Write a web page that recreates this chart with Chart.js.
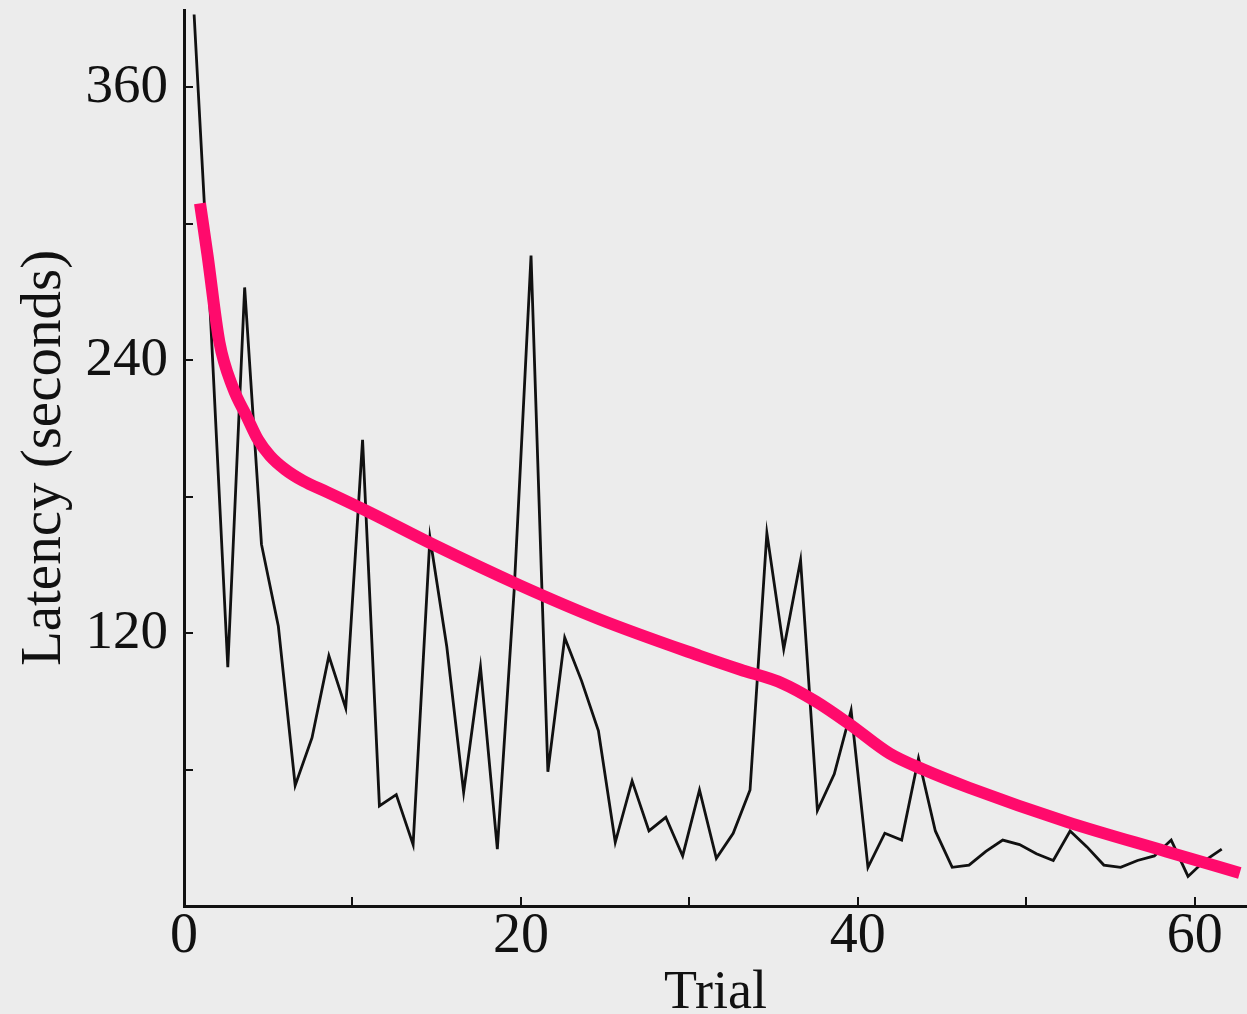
<!DOCTYPE html>
<html>
<head>
<meta charset="utf-8">
<script src="https://cdn.jsdelivr.net/npm/chart.js@4.4.0/dist/chart.umd.min.js"></script>
<style>
  html, body { margin: 0; padding: 0; background: #ececec; }
  canvas { display: block; }
</style>
</head>
<body>
<canvas id="myChart" width="1247" height="1014"></canvas>
<script>
// trial number and latency (s) of each trial
const trials = [1, 2, 3, 4, 5, 6, 7, 8, 9, 10, 11, 12, 13, 14, 15, 16, 17, 18, 19, 20,
    21, 22, 23, 24, 25, 26, 27, 28, 29, 30, 31, 32, 33, 34, 35, 36, 37, 38, 39, 40,
    41, 42, 43, 44, 45, 46, 47, 48, 49, 50, 51, 52, 53, 54, 55, 56, 57, 58, 59, 60, 61, 62];
const latencies = [392, 255, 105, 272, 159, 123, 53, 74, 110, 87, 205, 44, 49, 27, 162, 114, 50, 105, 25, 139,
    286, 59, 118, 99, 77, 28, 55, 33, 39, 22, 51, 21, 32, 51, 164, 113, 152, 42, 58, 86,
    17, 32, 29, 65, 33, 17, 18, 24, 29, 27, 23, 20, 33, 26, 18, 17, 20, 22, 29, 13, 20, 25];

// smoothed trend (pink curve)
const fitTrials = [0.95, 1.4, 2.1, 2.9, 3.74, 4.4, 5.1, 6, 7.06, 8.5, 11.04, 14.78, 19.94, 24.69, 30.62, 33, 35.5, 37.5, 39.5, 41.9, 43.9, 46.6, 52.4, 58.3, 62.67];
const fitLatency = [309, 286, 248, 228, 215, 205, 198, 192, 187, 182, 173, 159, 141, 126, 110, 104, 98, 90, 80, 67, 60, 52, 37, 24, 14.5];

const xLabels = [0, 20, 40, 60];
const yLabels = [120, 240, 360];

const serif = '"Liberation Serif", "DejaVu Serif", serif';

const data = {
    datasets: [{
        label: 'Trend',
        data: fitTrials.map((t, i) => ({ x: t, y: fitLatency[i] })),
        xAxisID: 'x',
        borderColor: '#ff0a6c',
        borderWidth: 12,
        borderCapStyle: 'butt',
        pointRadius: 0,
        cubicInterpolationMode: 'monotone',
        order: 0
    }, {
        label: 'Latency',
        data: trials.map((t, i) => ({ x: t, y: latencies[i] })),
        xAxisID: 'xd',
        borderColor: '#111111',
        borderWidth: 2.8,
        pointRadius: 0,
        tension: 0,
        order: 1
    }]
};

const config = {
    type: 'line',
    data: data,
    options: {
        responsive: false,
        animation: false,
        layout: { padding: { top: 10, right: 0, left: 0, bottom: 0 } },
        plugins: {
            legend: { display: false },
            tooltip: { enabled: false }
        },
        scales: {
            x: {
                type: 'linear',
                min: 0,
                max: 63.1,
                afterFit: (scale) => {
                    scale.height = 108;
                    scale.paddingLeft = 0;
                    scale.paddingRight = 0;
                },
                border: { display: true, color: '#111', width: 3 },
                grid: { drawOnChartArea: false, tickLength: -9, color: '#111', lineWidth: 2 },
                ticks: {
                    stepSize: 10,
                    includeBounds: false,
                    autoSkip: false,
                    maxRotation: 0,
                    padding: 7,
                    color: '#111',
                    font: { family: serif, size: 56 },
                    callback: (v) => xLabels.includes(v) ? String(v) : ''
                },
                title: {
                    display: true,
                    text: 'Trial',
                    color: '#111',
                    font: { family: serif, size: 54, lineHeight: 0.6 },
                    padding: { top: 0, bottom: 4 }
                }
            },
            xd: {
                type: 'linear',
                display: false,
                min: 0.4,
                max: 63.5
            },
            y: {
                type: 'linear',
                min: 0,
                max: 394,
                afterFit: (scale) => {
                    scale.width = 184;
                    scale.paddingTop = 0;
                    scale.paddingBottom = 0;
                },
                border: { display: true, color: '#111', width: 3 },
                grid: { drawOnChartArea: false, tickLength: -9, color: '#111', lineWidth: 2 },
                ticks: {
                    stepSize: 60,
                    includeBounds: false,
                    autoSkip: false,
                    padding: 25,
                    color: '#111',
                    font: { family: serif, size: 55 },
                    callback: (v) => yLabels.includes(v) ? String(v) : ''
                },
                title: {
                    display: true,
                    text: 'Latency (seconds)',
                    color: '#111',
                    font: { family: serif, size: 57, lineHeight: 1 },
                    padding: { top: 17, bottom: 0 }
                }
            }
        }
    }
};

const myChart = new Chart(document.getElementById('myChart'), config);
</script>
</body>
</html>
